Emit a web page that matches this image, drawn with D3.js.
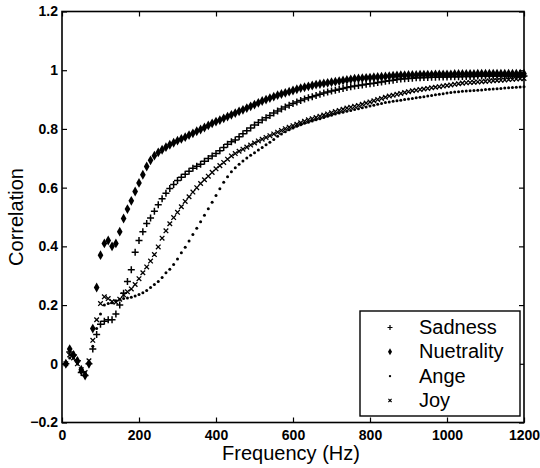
<!DOCTYPE html>
<html>
<head>
<meta charset="utf-8">
<script src="https://cdn.jsdelivr.net/npm/d3@7"></script>
<style>
  body { margin: 0; background: #fff; }
  svg { display: block; font-family: "Liberation Sans", Arial, sans-serif; }
  .tick text { font-size: 14px; font-weight: bold; fill: #000; }
</style>
</head>
<body>
<svg id="chart" width="540" height="468"></svg>
<script>
// sampling grid (Hz), one point every 10 Hz
const freqs = d3.range(10, 1201, 10);

const sadness = [
  0.00, 0.04, 0.03, 0.01, -0.03, -0.04, 0.00, 0.05, 0.10, 0.135,
  0.145, 0.15, 0.15, 0.17, 0.20, 0.24, 0.28, 0.32, 0.38, 0.42,
  0.45, 0.478, 0.497, 0.52, 0.542, 0.562, 0.581, 0.597, 0.611, 0.624,
  0.635, 0.646, 0.656, 0.666, 0.673, 0.68, 0.69, 0.699, 0.708, 0.716,
  0.726, 0.737, 0.748, 0.756, 0.762, 0.773, 0.784, 0.794, 0.803, 0.813,
  0.822, 0.83, 0.838, 0.846, 0.854, 0.861, 0.868, 0.875, 0.881, 0.887,
  0.892, 0.897, 0.902, 0.906, 0.91, 0.914, 0.918, 0.922, 0.926, 0.929,
  0.932, 0.935, 0.938, 0.941, 0.944, 0.946, 0.948, 0.95, 0.952, 0.954,
  0.956, 0.958, 0.96, 0.962, 0.964, 0.966, 0.968, 0.97, 0.971, 0.972,
  0.973, 0.974, 0.974, 0.975, 0.975, 0.976, 0.976, 0.977, 0.977, 0.977,
  0.978, 0.978, 0.978, 0.979, 0.979, 0.979, 0.979, 0.98, 0.98, 0.98,
  0.98, 0.98, 0.98, 0.98, 0.98, 0.98, 0.98, 0.98, 0.98, 0.98
];

const nuetrality = [
  0.00, 0.05, 0.03, 0.01, -0.02, -0.04, 0.00, 0.12, 0.26, 0.37,
  0.41, 0.42, 0.40, 0.41, 0.45, 0.495, 0.527, 0.555, 0.587, 0.616,
  0.644, 0.672, 0.693, 0.709, 0.72, 0.729, 0.738, 0.746, 0.753, 0.76,
  0.766, 0.772, 0.779, 0.785, 0.792, 0.798, 0.805, 0.812, 0.819, 0.825,
  0.83, 0.836, 0.842, 0.848, 0.854, 0.86, 0.865, 0.871, 0.877, 0.883,
  0.889, 0.895, 0.90, 0.905, 0.91, 0.915, 0.919, 0.923, 0.927, 0.931,
  0.935, 0.939, 0.942, 0.945, 0.948, 0.951, 0.953, 0.955, 0.957, 0.959,
  0.961, 0.963, 0.965, 0.967, 0.969, 0.971, 0.972, 0.973, 0.974, 0.975,
  0.976, 0.977, 0.978, 0.979, 0.98, 0.981, 0.982, 0.983, 0.983, 0.984,
  0.984, 0.984, 0.985, 0.985, 0.985, 0.985, 0.986, 0.986, 0.986, 0.986,
  0.986, 0.987, 0.987, 0.987, 0.987, 0.987, 0.987, 0.988, 0.988, 0.988,
  0.988, 0.988, 0.988, 0.988, 0.988, 0.988, 0.988, 0.988, 0.988, 0.988
];

const ange = [
  0.00, 0.02, 0.02, 0.00, -0.03, -0.03, 0.00, 0.06, 0.12, 0.17,
  0.20, 0.205, 0.208, 0.215, 0.22, 0.222, 0.224, 0.227, 0.231, 0.236,
  0.242, 0.25, 0.26, 0.27, 0.28, 0.294, 0.31, 0.322, 0.338, 0.357,
  0.378, 0.397, 0.418, 0.44, 0.462, 0.484, 0.506, 0.528, 0.55, 0.573,
  0.596, 0.618, 0.637, 0.654, 0.668, 0.68, 0.691, 0.701, 0.71, 0.719,
  0.728, 0.737, 0.746, 0.755, 0.764, 0.775, 0.783, 0.79, 0.797, 0.803,
  0.809, 0.814, 0.819, 0.823, 0.827, 0.831, 0.835, 0.839, 0.843, 0.847,
  0.851, 0.854, 0.857, 0.86, 0.863, 0.866, 0.869, 0.872, 0.875, 0.878,
  0.881, 0.884, 0.887, 0.89, 0.892, 0.894, 0.896, 0.898, 0.90, 0.902,
  0.904, 0.906, 0.908, 0.91, 0.912, 0.914, 0.916, 0.918, 0.92, 0.922,
  0.924, 0.926, 0.927, 0.928, 0.929, 0.93, 0.931, 0.932, 0.933, 0.934,
  0.935, 0.936, 0.937, 0.938, 0.939, 0.94, 0.941, 0.942, 0.943, 0.944
];

const joy = [
  0.00, 0.03, 0.02, 0.00, -0.02, -0.03, 0.01, 0.08, 0.15, 0.205,
  0.228, 0.222, 0.212, 0.21, 0.22, 0.235, 0.245, 0.255, 0.27, 0.29,
  0.31, 0.33, 0.35, 0.372, 0.398, 0.428, 0.453, 0.477, 0.498, 0.516,
  0.535, 0.553, 0.569, 0.585, 0.60, 0.614, 0.627, 0.639, 0.652, 0.664,
  0.675, 0.686, 0.697, 0.708, 0.716, 0.724, 0.731, 0.738, 0.745, 0.752,
  0.759, 0.765, 0.771, 0.777, 0.783, 0.789, 0.795, 0.801, 0.806, 0.811,
  0.816, 0.821, 0.826, 0.831, 0.835, 0.839, 0.843, 0.847, 0.851, 0.855,
  0.859, 0.863, 0.867, 0.871, 0.874, 0.877, 0.88, 0.884, 0.888, 0.892,
  0.896, 0.90, 0.904, 0.908, 0.912, 0.915, 0.918, 0.921, 0.924, 0.927,
  0.93, 0.932, 0.934, 0.936, 0.938, 0.94, 0.942, 0.944, 0.946, 0.948,
  0.95, 0.952, 0.954, 0.956, 0.957, 0.958, 0.959, 0.96, 0.961, 0.962,
  0.963, 0.964, 0.965, 0.966, 0.967, 0.968, 0.969, 0.97, 0.971, 0.972
];

const seriesNames = ['Sadness', 'Nuetrality', 'Ange', 'Joy'];
const seriesValues = [sadness, nuetrality, ange, joy];
const xTicks = [0, 200, 400, 600, 800, 1000, 1200];
const yTicks = [-0.2, 0, 0.2, 0.4, 0.6, 0.8, 1, 1.2];

const svg = d3.select('#chart');
const plotLeft = 62, plotRight = 524, plotTop = 11.5, plotBottom = 422.5;

const x = d3.scaleLinear().domain([0, 1200]).range([plotLeft, plotRight]);
const y = d3.scaleLinear().domain([-0.2, 1.2]).range([plotBottom, plotTop]);

// marker shapes, MATLAB style
const markers = {
  Sadness: g => g.append('path').attr('d', 'M-3.5,0H3.5M0,-3.5V3.5')
    .attr('stroke', '#000').attr('stroke-width', 1.5).attr('fill', 'none'),
  Nuetrality: g => g.append('path').attr('d', d3.symbol(d3.symbolDiamond, 28)())
    .attr('fill', '#000'),
  Ange: g => g.append('circle').attr('r', 1.5).attr('fill', '#000'),
  Joy: g => g.append('path').attr('d', 'M-2.3,-2.3L2.3,2.3M-2.3,2.3L2.3,-2.3')
    .attr('stroke', '#000').attr('stroke-width', 1.3).attr('fill', 'none')
};

// Draw the points of every series
const plot = svg.append('g');
seriesNames.forEach((name, i) => {
  const pts = freqs.map((f, j) => ({ f: f, v: seriesValues[i][j] }));
  plot.append('g').selectAll('g')
    .data(pts)
    .join('g')
    .attr('transform', d => `translate(${x(d.f)},${y(d.v)})`)
    .each(function () { markers[name](d3.select(this)); });
});

// axes, ticks pointing inward on all four sides
const fmt = d => d3.format('~g')(d);
svg.append('g')
  .attr('transform', `translate(0,${plotBottom})`)
  .call(d3.axisBottom(x).tickValues(xTicks).tickSize(-5).tickPadding(8).tickFormat(fmt));
svg.append('g')
  .attr('transform', `translate(${plotLeft},0)`)
  .call(d3.axisLeft(y).tickValues(yTicks).tickSize(-5).tickPadding(4).tickFormat(fmt));
svg.append('g')
  .attr('transform', `translate(0,${plotTop})`)
  .call(d3.axisTop(x).tickValues(xTicks).tickSize(-5).tickFormat(''));
svg.append('g')
  .attr('transform', `translate(${plotRight},0)`)
  .call(d3.axisRight(y).tickValues(yTicks).tickSize(-5).tickFormat(''));
svg.selectAll('.domain').remove();
svg.selectAll('.tick line').attr('stroke', '#000').attr('stroke-width', 1.2);

svg.append('rect')
  .attr('x', plotLeft).attr('y', plotTop)
  .attr('width', plotRight - plotLeft).attr('height', plotBottom - plotTop)
  .attr('fill', 'none').attr('stroke', '#000').attr('stroke-width', 1.6);

// axis labels
svg.append('text')
  .text('Frequency (Hz)')
  .attr('x', 291).attr('y', 460)
  .attr('text-anchor', 'middle')
  .attr('font-size', 20);

svg.append('text')
  .text('Correlation')
  .attr('transform', `translate(23,${(plotTop + plotBottom) / 2}) rotate(-90)`)
  .attr('text-anchor', 'middle')
  .attr('font-size', 20);

// legend
const legend = svg.append('g');
legend.append('rect')
  .attr('x', 360).attr('y', 311)
  .attr('width', 160).attr('height', 105)
  .attr('fill', '#fff').attr('stroke', '#000').attr('stroke-width', 1.4);

seriesNames.forEach((name, i) => {
  const row = legend.append('g').attr('transform', `translate(0,${334 + i * 24.3})`);
  const m = row.append('g').attr('transform', 'translate(390,-6.5)');
  if (name === 'Sadness') {
    m.append('path').attr('d', 'M-2.5,0H2.5M0,-2.5V2.5').attr('stroke', '#000').attr('stroke-width', 1.2);
  } else if (name === 'Nuetrality') {
    m.append('path').attr('d', d3.symbol(d3.symbolDiamond, 14)()).attr('fill', '#000');
  } else if (name === 'Ange') {
    m.append('circle').attr('r', 1.2).attr('fill', '#000');
  } else {
    m.append('path').attr('d', 'M-1.6,-1.6L1.6,1.6M-1.6,1.6L1.6,-1.6').attr('stroke', '#000').attr('stroke-width', 1.1);
  }
  row.append('text')
    .text(name)
    .attr('x', 419).attr('y', 0)
    .attr('font-size', 20);
});
</script>
</body>
</html>
